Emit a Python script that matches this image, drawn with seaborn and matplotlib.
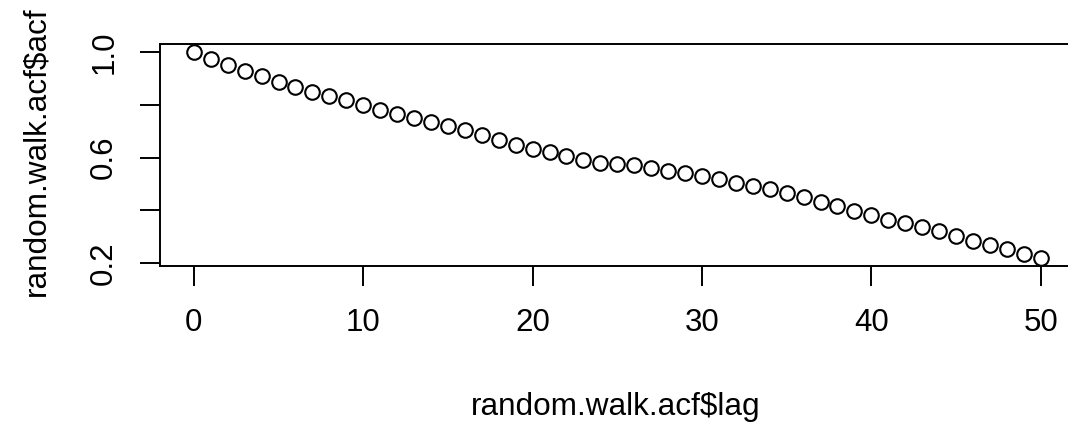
import matplotlib
matplotlib.use("Agg")
import matplotlib.pyplot as plt
import seaborn as sns
import pandas as pd

lag = list(range(51))
acf = [1.000, 0.975, 0.951, 0.928, 0.910, 0.888, 0.868, 0.849, 0.834, 0.819,
       0.800, 0.782, 0.765, 0.751, 0.735, 0.720, 0.704, 0.685, 0.667, 0.649,
       0.634, 0.620, 0.606, 0.592, 0.581, 0.577, 0.571, 0.560, 0.550, 0.541,
       0.532, 0.520, 0.505, 0.494, 0.480, 0.467, 0.450, 0.433, 0.416, 0.398,
       0.381, 0.365, 0.351, 0.337, 0.322, 0.303, 0.285, 0.268, 0.252, 0.236,
       0.219]
ytick_vals = [0.2, 0.4, 0.6, 0.8, 1.0]
ytick_labels = ["0.2", "", "0.6", "", "1.0"]
xtick_vals = [0, 10, 20, 30, 40, 50]
xtick_labels = ["0", "10", "20", "30", "40", "50"]
xlabel = "random.walk.acf$lag"
ylabel = "random.walk.acf$acf"

sns.set_theme(style="white")
plt.rcParams["font.family"] = ["Liberation Sans", "DejaVu Sans"]

df = pd.DataFrame({"lag": lag, "acf": acf})

W, H = 1068, 423
fig = plt.figure(figsize=(W / 100, H / 100), dpi=100)
left, right, top, bottom = 160, 1074.6, 44, 266
ax = fig.add_axes([left / W, 1 - bottom / H, (right - left) / W, (bottom - top) / H])

sns.scatterplot(data=df, x="lag", y="acf", ax=ax, marker="o", s=110,
                facecolor="white", edgecolor="black", linewidth=1.5, zorder=3)

ax.set_xlim(-2, 52)
ax.set_ylim(0.1886, 1.0315)
ax.set_xticks(xtick_vals)
ax.set_xticklabels(xtick_labels)
ax.set_yticks(ytick_vals)
ax.set_yticklabels(ytick_labels, rotation=90, va="center")
ax.tick_params(axis="both", direction="out", length=14.4, width=1.4,
               color="black", labelsize=22.5, labelcolor="black")
ax.tick_params(axis="x", pad=16, bottom=True)
ax.tick_params(axis="y", pad=15, left=True)
for sp in ax.spines.values():
    sp.set_visible(True)
    sp.set_color("black")
    sp.set_linewidth(1.4)
ax.set_xlabel("")
ax.set_ylabel("")
ax.grid(False)

fig.text(616 / W, 1 - 415 / H, xlabel, ha="center", va="baseline",
         fontsize=22.7, color="black")
fig.text(44 / W, 1 - 151.5 / H, ylabel, ha="center", va="baseline", rotation=90,
         rotation_mode="anchor", fontsize=22.7, color="black")

fig.savefig("out.png", dpi=100)
